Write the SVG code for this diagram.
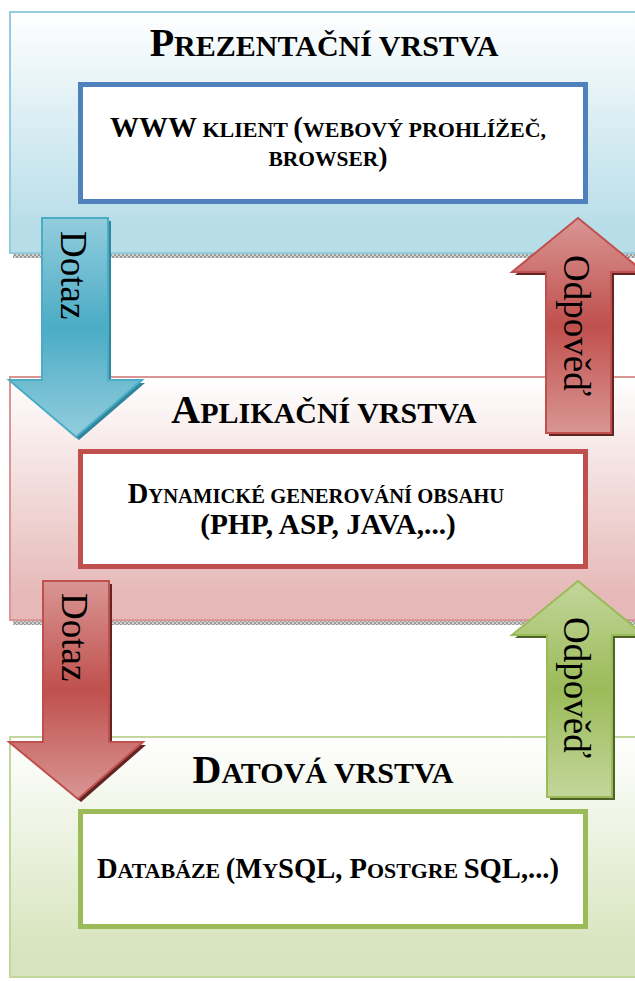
<svg xmlns="http://www.w3.org/2000/svg" width="635" height="981" viewBox="0 0 635 981">
  <defs>
    <linearGradient id="bgBlue" x1="0" y1="0" x2="0" y2="1">
      <stop offset="0" stop-color="#ffffff"/>
      <stop offset="0.9" stop-color="#b7dde8"/>
      <stop offset="1" stop-color="#b7dde8"/>
    </linearGradient>
    <linearGradient id="bgRed" x1="0" y1="0" x2="0" y2="1">
      <stop offset="0" stop-color="#ffffff"/>
      <stop offset="0.9" stop-color="#e6b9b8"/>
      <stop offset="1" stop-color="#e6b9b8"/>
    </linearGradient>
    <linearGradient id="bgGreen" x1="0" y1="0" x2="0" y2="1">
      <stop offset="0" stop-color="#ffffff"/>
      <stop offset="0.9" stop-color="#d7e4bd"/>
      <stop offset="1" stop-color="#d7e4bd"/>
    </linearGradient>
    <linearGradient id="arBlue" x1="0" y1="0" x2="0" y2="1">
      <stop offset="0" stop-color="#93cddd"/>
      <stop offset="0.5" stop-color="#4bacc6"/>
      <stop offset="1" stop-color="#93cddd"/>
    </linearGradient>
    <linearGradient id="arRed" x1="0" y1="0" x2="0" y2="1">
      <stop offset="0" stop-color="#d99694"/>
      <stop offset="0.5" stop-color="#c0504d"/>
      <stop offset="1" stop-color="#d99694"/>
    </linearGradient>
    <linearGradient id="arGreen" x1="0" y1="0" x2="0" y2="1">
      <stop offset="0" stop-color="#c3d69b"/>
      <stop offset="0.5" stop-color="#9bbb59"/>
      <stop offset="1" stop-color="#c3d69b"/>
    </linearGradient>
    <pattern id="dots" width="4" height="4" patternUnits="userSpaceOnUse">
      <rect width="4" height="4" fill="#d0d0d0"/>
      <rect width="2" height="2" fill="#9a9a9a"/>
      <rect x="2" y="2" width="2" height="2" fill="#9a9a9a"/>
    </pattern>
  </defs>
  <style>
    .title { font-family: "Liberation Serif", "Times New Roman", serif; font-weight: bold; fill: #000; }
    .big { font-size: 40px; }
    .small { font-size: 30px; }
    .inner { fill: #ffffff; stroke-width: 5; }
    .lbl { font-family: "Liberation Serif", "Times New Roman", serif; font-size: 37px; fill: #000; }
    .shade { fill: url(#dots); }
  </style>

  <!-- presentation layer -->
  <g id="layer-presentation">
    <rect class="shade" x="13" y="254" width="622" height="4"/>
    <rect x="10" y="12" width="640" height="241" fill="url(#bgBlue)" stroke="#93cddd" stroke-width="2"/>
    <text class="title" x="324" y="56" text-anchor="middle"><tspan class="big">P</tspan><tspan class="small">REZENTAČNÍ VRSTVA</tspan></text>
    <rect class="inner" x="80.5" y="84.5" width="505" height="117" stroke="#4f81bd"/>
    <text class="title" x="328" y="137" text-anchor="middle"><tspan font-size="29">WWW</tspan><tspan font-size="22"> KLIENT </tspan><tspan font-size="29">(</tspan><tspan font-size="22">WEBOVÝ PROHLÍŽEČ,</tspan></text>
    <text class="title" x="328" y="166" text-anchor="middle"><tspan font-size="21.5">BROWSER</tspan><tspan font-size="28">)</tspan></text>
  </g>

  <!-- application layer -->
  <g id="layer-application">
    <rect class="shade" x="13" y="621" width="622" height="4"/>
    <rect x="10" y="377" width="640" height="243" fill="url(#bgRed)" stroke="#d99694" stroke-width="2"/>
    <text class="title" x="324" y="423" text-anchor="middle"><tspan class="big">A</tspan><tspan class="small">PLIKAČNÍ VRSTVA</tspan></text>
    <rect class="inner" x="80.5" y="451.5" width="505" height="115" stroke="#c0504d"/>
    <text class="title" x="316" y="503" text-anchor="middle"><tspan font-size="28.5">D</tspan><tspan font-size="20.6">YNAMICKÉ GENEROVÁNÍ OBSAHU</tspan></text>
    <text class="title" x="328" y="534" text-anchor="middle" font-size="29.3">(PHP, ASP, JAVA,...)</text>
  </g>

  <!-- data layer -->
  <g id="layer-data">
    <rect x="10" y="737" width="640" height="240" fill="url(#bgGreen)" stroke="#c3d69b" stroke-width="2"/>
    <text class="title" x="323" y="783" text-anchor="middle"><tspan class="big">D</tspan><tspan class="small">ATOVÁ VRSTVA</tspan></text>
    <rect class="inner" x="80.5" y="811.5" width="505" height="115" stroke="#9bbb59"/>
    <text class="title" x="328" y="878" text-anchor="middle"><tspan font-size="28.6">D</tspan><tspan font-size="21.9">ATABÁZE </tspan><tspan font-size="28.6">(M</tspan><tspan font-size="21.9">Y</tspan><tspan font-size="28.6">SQL, P</tspan><tspan font-size="21.9">OSTGRE </tspan><tspan font-size="28.6">SQL,...)</tspan></text>
  </g>

  <!-- request / response arrows -->
  <g id="connectors">
    <g id="query-1">
      <path d="M42,218 H108 V380 H142 L76,437 L9,380 H42 Z" fill="#31859c" transform="translate(3,3)"/>
      <path d="M42,218 H108 V380 H142 L76,437 L9,380 H42 Z" fill="url(#arBlue)" stroke="#4bacc6" stroke-width="2"/>
      <text class="lbl" transform="translate(61,231) rotate(90)">Dotaz</text>
    </g>
    <g id="response-1">
      <path d="M578,218 L644,272 H611 V433 H546 V272 H512 Z" fill="#632523" transform="translate(3,3)"/>
      <path d="M578,218 L644,272 H611 V433 H546 V272 H512 Z" fill="url(#arRed)" stroke="#c0504d" stroke-width="2"/>
      <text class="lbl" transform="translate(564,255) rotate(90)">Odpověď</text>
    </g>
    <g id="query-2">
      <path d="M43,581 H109 V742 H143 L78,799 L9,742 H43 Z" fill="#632523" transform="translate(3,3)"/>
      <path d="M43,581 H109 V742 H143 L78,799 L9,742 H43 Z" fill="url(#arRed)" stroke="#c0504d" stroke-width="2"/>
      <text class="lbl" transform="translate(62,593) rotate(90)">Dotaz</text>
    </g>
    <g id="response-2">
      <path d="M578,581 L644,635 H612 V797 H547 V635 H512 Z" fill="#4f6228" transform="translate(3,3)"/>
      <path d="M578,581 L644,635 H612 V797 H547 V635 H512 Z" fill="url(#arGreen)" stroke="#9bbb59" stroke-width="2"/>
      <text class="lbl" transform="translate(564,617) rotate(90)">Odpověď</text>
    </g>
  </g>
</svg>
